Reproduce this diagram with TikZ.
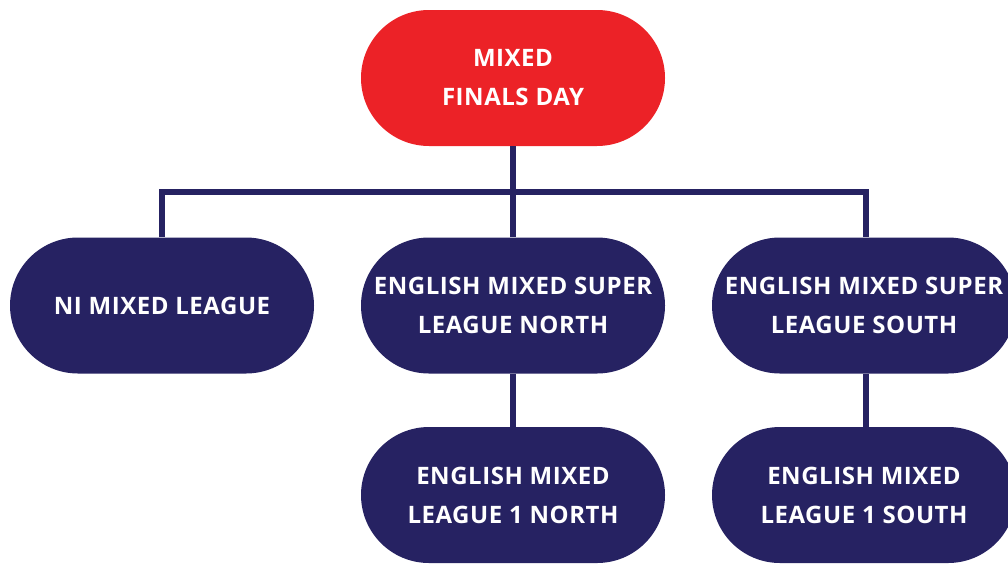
\documentclass[tikz,border=0pt]{standalone}
\usepackage{fontspec}
\setmainfont{Open Sans}[LetterSpace=2.3]
\usetikzlibrary{positioning}
\definecolor{finalred}{HTML}{EC2227}
\definecolor{leaguenavy}{HTML}{262262}
\begin{document}
\begin{tikzpicture}[x=1pt,y=-1pt,
pill/.style = {fill=leaguenavy, text=white, align=center,
  minimum width=304pt, minimum height=136pt, rounded corners=68pt,
  font=\fontsize{24}{39}\selectfont\bfseries, inner sep=0pt},
link/.style = {draw=leaguenavy, line width=6.5pt}
]
\useasboundingbox (0,0) rectangle (1008,563);
% top
\node[pill, fill=finalred] (finals) at (513,78) {MIXED\\FINALS DAY};
% second row
\node[pill] (ni) at (162,305.5) {NI MIXED LEAGUE};
\node[pill] (north) at (513,305.5) {ENGLISH MIXED SUPER\\LEAGUE NORTH};
\node[pill] (south) at (864,305.5) {ENGLISH MIXED SUPER\\LEAGUE SOUTH};
% third row
\node[pill] (north1) at (513,495) {ENGLISH MIXED\\LEAGUE 1 NORTH};
\node[pill] (south1) at (864,495) {ENGLISH MIXED\\LEAGUE 1 SOUTH};
% connectors
\coordinate (bar) at (513,192);
\draw[link] (finals.south) -- (north.north);
\draw[link] (ni.north) |- (bar) -| ([xshift=2pt]south.north);
\draw[link] ([xshift=2pt]south.south) -- ([xshift=2pt]south1.north);
\draw[link] (north.south) -- (north1.north);
\end{tikzpicture}
\end{document}
